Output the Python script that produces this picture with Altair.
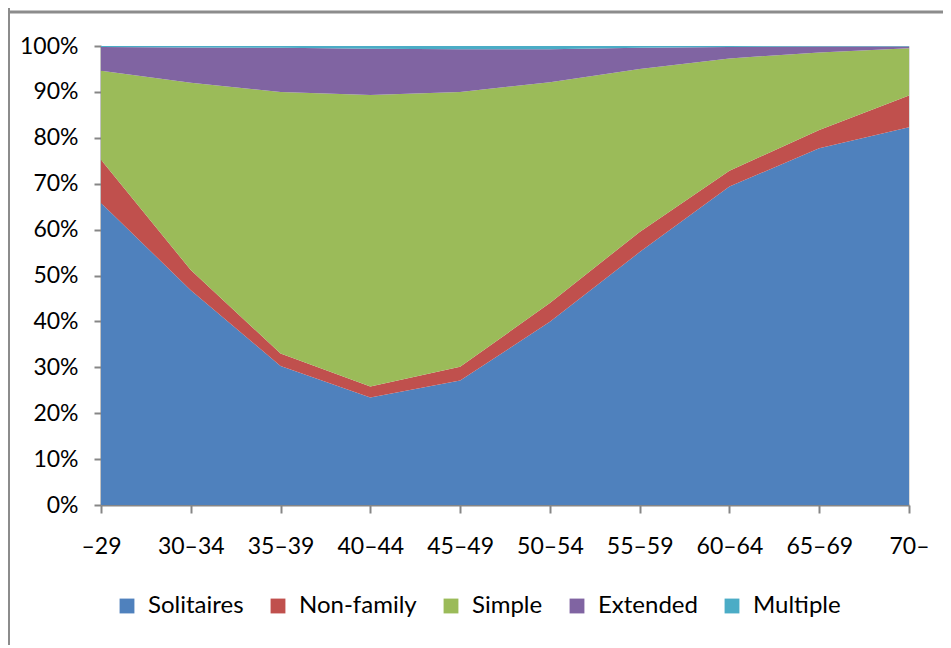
import altair as alt
import pandas as pd

ages = ["–29", "30–34", "35–39", "40–44", "45–49", "50–54", "55–59", "60–64", "65–69", "70–"]
series = ["Solitaires", "Non-family", "Simple", "Extended", "Multiple"]
colors = ["#4F81BD", "#C0504D", "#9BBB59", "#8064A2", "#4BACC6"]

solitaires = [65.8, 46.8, 30.3, 23.4, 27.1, 39.9, 55.1, 69.4, 77.7, 82.3]
non_family = [9.4, 4.4, 2.7, 2.4, 3.0, 4.1, 4.4, 3.4, 4.0, 6.9]
simple = [19.4, 40.8, 57.0, 63.5, 59.9, 48.1, 35.5, 24.5, 16.9, 10.3]
extended = [5.2, 7.7, 9.6, 10.1, 9.3, 7.2, 4.6, 2.5, 1.3, 0.4]
multiple = [0.2, 0.3, 0.4, 0.6, 0.7, 0.7, 0.4, 0.2, 0.1, 0.1]

values = [solitaires, non_family, simple, extended, multiple]
rows = []
for si, (name, vals) in enumerate(zip(series, values)):
    for ai, (age, v) in enumerate(zip(ages, vals)):
        rows.append({"age": age, "series": name, "value": v, "order": si})
df = pd.DataFrame(rows)

FONT = "Lato"

area = alt.Chart(df).mark_area(opacity=1).encode(
    x=alt.X("age:O", sort=ages, scale=alt.Scale(padding=0),
            axis=alt.Axis(title=None, labelAngle=0, labelFontSize=23, labelFont=FONT,
                          labelColor="#000000", labelPadding=22, tickSize=8,
                          tickColor="#868686", tickWidth=2, domainColor="#868686",
                          domainWidth=2, labelBaseline="top")),
    y=alt.Y("value:Q", stack="normalize",
            scale=alt.Scale(domain=[0, 1]),
            axis=alt.Axis(title=None, format=".0%", values=[i / 10 for i in range(11)],
                          labelFontSize=23, labelFont=FONT, labelColor="#000000",
                          labelPadding=16, tickSize=7, tickColor="#868686", tickWidth=2,
                          domainColor="#868686", domainWidth=2, grid=False)),
    color=alt.Color("series:N", scale=alt.Scale(domain=series, range=colors),
                    legend=alt.Legend(title=None, orient="none", direction="horizontal",
                                      legendX=14, legendY=548,
                                      symbolType="square", symbolSize=220,
                                      symbolStrokeWidth=0, labelFontSize=24,
                                      labelFont=FONT, labelColor="#000000",
                                      labelOffset=9, columnPadding=22)),
    order=alt.Order("order:Q", sort="ascending"),
)

frame_data = alt.Data(values=[{"k": 1}])
top_line = alt.Chart(frame_data).mark_rule(color="#8c8c8c", strokeWidth=3).encode(
    x=alt.value(-93), x2=alt.value(860), y=alt.value(-34)
)
left_line = alt.Chart(frame_data).mark_rule(color="#8c8c8c", strokeWidth=2).encode(
    x=alt.value(-92), y=alt.value(-46), y2=alt.value(650)
)

chart = alt.layer(area, top_line, left_line).properties(
    width=808, height=459,
    autosize=alt.AutoSizeParams(type="none"),
    padding={"left": 93, "top": 38, "right": 34, "bottom": 140},
).configure_view(stroke=None).configure(background="#ffffff")

chart.save("out.html", embed_options={"renderer": "svg", "actions": False})
